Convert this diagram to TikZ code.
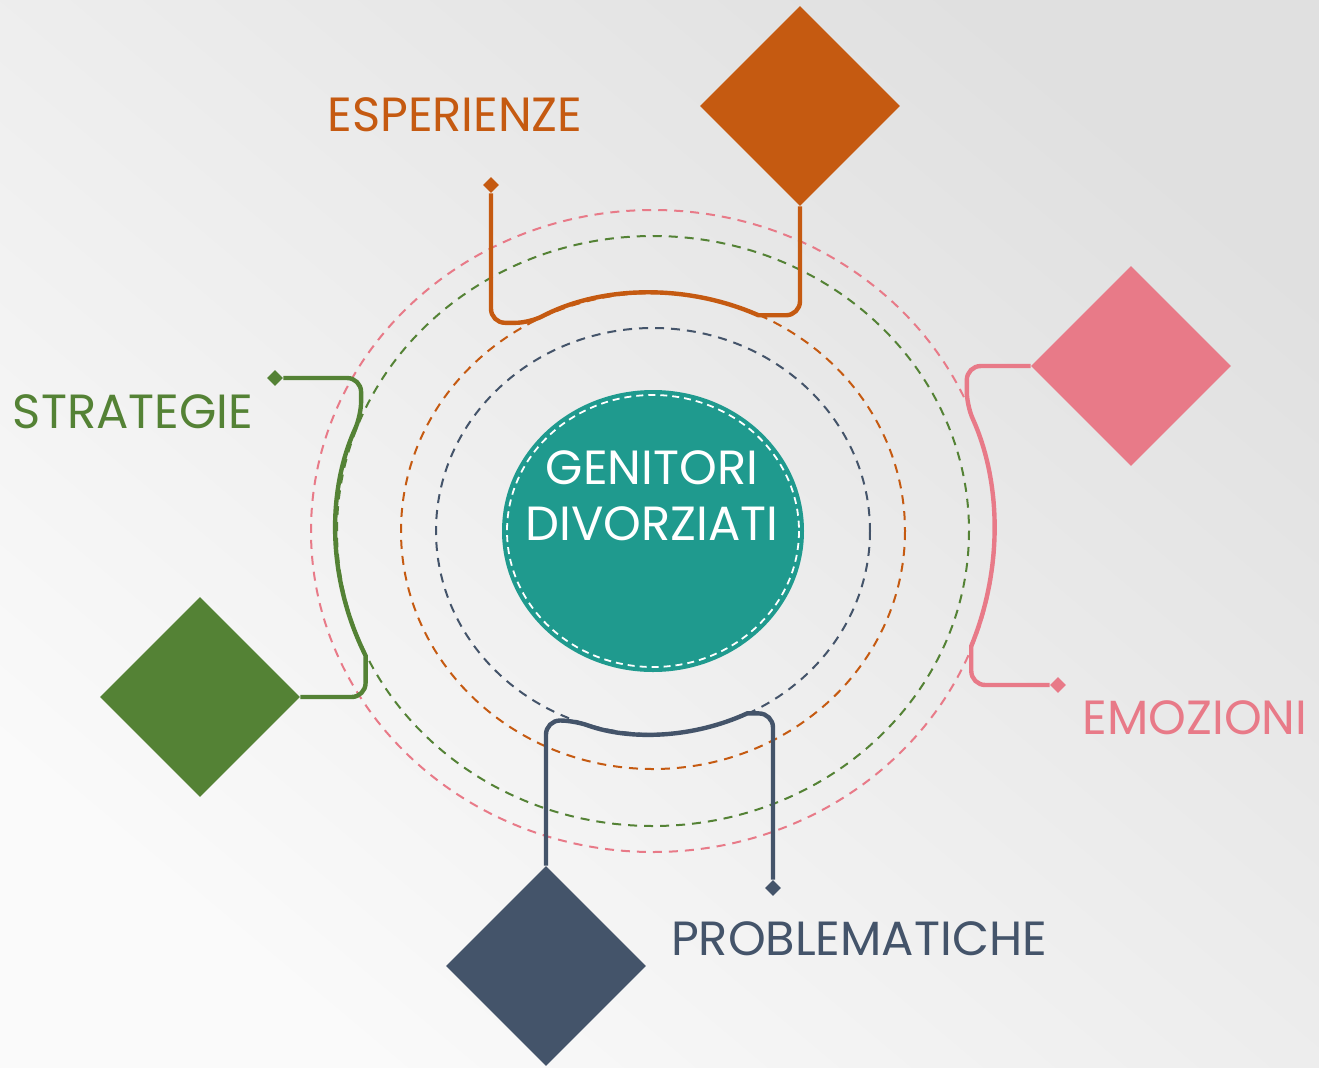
\documentclass[tikz,border=0pt]{standalone}
\usepackage{fontspec}
\setmainfont{Poppins}
\usetikzlibrary{shapes.geometric}

\definecolor{espcol}{HTML}{C55A11}
\definecolor{stracol}{HTML}{548235}
\definecolor{emocol}{HTML}{E87A88}
\definecolor{probcol}{HTML}{44546A}
\definecolor{centcol}{HTML}{1F9A8E}

\tikzset{
  ring/.style={dash pattern=on 4.5pt off 3.5pt, line width=1pt},
  bigdiam/.style={diamond, minimum size=100pt, inner sep=0pt},
  smalldiam/.style={diamond, minimum size=8pt, inner sep=0pt},
  link/.style={line width=2.2pt, rounded corners=7pt},
  tag/.style={font=\fontsize{24}{28}\selectfont},
}

\begin{document}
\begin{tikzpicture}[x=0.5pt,y=-0.5pt]
% background
\shade[top color=gray!24, bottom color=gray!4, shading angle=-40] (0,0) rectangle (1319,1067);
\useasboundingbox (0,0) rectangle (1319,1067);

% centre
\node[ellipse, fill=centcol, minimum width=151pt, minimum height=141pt, inner sep=0pt] (cent) at (653,531) {};
\draw[white, dash pattern=on 3.5pt off 2.5pt, line width=0.9pt] (cent.center) ellipse[x radius=146, y radius=136];
\node[white, align=center, font=\fontsize{24}{28}\selectfont] (centtext) at (652,496) {GENITORI\\DIVORZIATI};

% dashed rings
\draw[ring, probcol] (cent.center) ellipse[x radius=217, y radius=203];
\draw[ring, espcol] (cent.center) ellipse[x radius=252, y radius=238];
\draw[ring, stracol] (cent.center) ellipse[x radius=316, y radius=295];
\draw[ring, emocol] (cent.center) ellipse[x radius=342, y radius=321];

% diamonds
\node[bigdiam, fill=espcol] (espD) at (800,106) {};
\node[smalldiam, fill=espcol] (espS) at (491,185) {};
\node[bigdiam, fill=stracol] (straD) at (200,697) {};
\node[smalldiam, fill=stracol] (straS) at (275,378) {};
\node[bigdiam, fill=emocol] (emoD) at (1131,366) {};
\node[smalldiam, fill=emocol] (emoS) at (1058,685) {};
\node[bigdiam, fill=probcol] (probD) at (546,966) {};
\node[smalldiam, fill=probcol] (probS) at (773,888) {};

% links
\draw[link, espcol] (espS) |- (529.8,322.8) [sharp corners] arc[start angle=241, end angle=295, x radius=252, y radius=238] [rounded corners=7pt] -| (espD.south);
\draw[link, stracol] (straS) -| (361.1,415.7) [sharp corners] arc[start angle=203, end angle=155, x radius=316, y radius=295] [rounded corners=7pt] |- (straD.east);
\draw[link, emocol] (emoD.west) -| (966.8,405.6) [sharp corners] arc[start angle=-23, end angle=21, x radius=342, y radius=321] [rounded corners=7pt] |- (emoS);
\draw[link, probcol] (probD.north) |- (574.2,720.5) [sharp corners] arc[start angle=111, end angle=64, x radius=217, y radius=203] [rounded corners=7pt] -| (probS);

% labels
\node[tag, text=espcol] (espL) at (455,115) {ESPERIENZE};
\node[tag, text=stracol] (straL) at (133,412) {STRATEGIE};
\node[tag, text=emocol] (emoL) at (1195,718) {EMOZIONI};
\node[tag, text=probcol] (probL) at (859,939) {PROBLEMATICHE};
\end{tikzpicture}
\end{document}
